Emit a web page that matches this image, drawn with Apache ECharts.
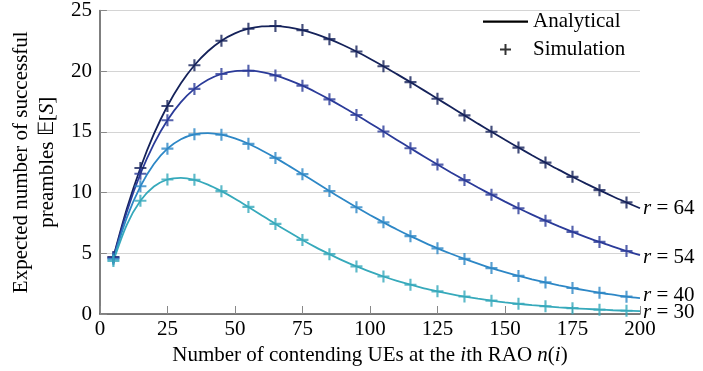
<!DOCTYPE html>
<html>
<head>
<meta charset="utf-8">
<script src="https://cdn.jsdelivr.net/npm/echarts@6/dist/echarts.min.js"></script>
<style>html,body{margin:0;padding:0;background:#fff;}#c{width:703px;height:371px;}</style>
</head>
<body>
<div id="c"></div>
<script>
// x positions of the analytical curves
const nVals = [5,10,15,20,25,30,35,40,45,50,55,60,65,70,75,80,85,90,95,100,105,110,115,120,125,130,135,140,145,150,155,160,165,170,175,180,185,190,195,200];
const r64 = [4.69,8.68,12.03,14.83,17.13,19.00,20.49,21.64,22.51,23.11,23.50,23.69,23.72,23.61,23.39,23.06,22.64,22.16,21.62,21.03,20.41,19.76,19.10,18.42,17.73,17.05,16.36,15.68,15.01,14.35,13.71,13.08,12.47,11.87,11.30,10.74,10.20,9.68,9.19,8.71];
const r54 = [4.64,8.45,11.55,14.02,15.96,17.45,18.54,19.30,19.77,20.01,20.04,19.92,19.65,19.27,18.81,18.27,17.68,17.05,16.39,15.72,15.03,14.34,13.65,12.98,12.31,11.66,11.03,10.42,9.83,9.26,8.71,8.19,7.69,7.22,6.77,6.34,5.94,5.55,5.19,4.85];
const r40 = [4.52,7.96,10.52,12.36,13.62,14.40,14.80,14.90,14.77,14.46,14.02,13.47,12.86,12.20,11.52,10.83,10.13,9.45,8.79,8.16,7.55,6.96,6.41,5.90,5.41,4.96,4.54,4.15,3.78,3.45,3.14,2.86,2.60,2.36,2.14,1.94,1.75,1.59,1.43,1.30];
const r30 = [4.37,7.37,9.33,10.50,11.08,11.22,11.05,10.66,10.12,9.50,8.82,8.12,7.42,6.75,6.10,5.49,4.93,4.40,3.92,3.49,3.09,2.73,2.41,2.12,1.87,1.64,1.44,1.26,1.10,0.96,0.84,0.73,0.64,0.55,0.48,0.42,0.36,0.31,0.27,0.24];
// simulation points
const simN = [5,15,25,35,45,55,65,75,85,95,105,115,125,135,145,155,165,175,185,195];
const sim64 = [4.69,12.03,17.13,20.49,22.51,23.50,23.72,23.39,22.64,21.62,20.41,19.10,17.73,16.36,15.01,13.71,12.47,11.30,10.20,9.19];
const sim54 = [4.64,11.55,15.96,18.54,19.77,20.04,19.65,18.81,17.68,16.39,15.03,13.65,12.31,11.03,9.83,8.71,7.69,6.77,5.94,5.19];
const sim40 = [4.52,10.52,13.62,14.80,14.77,14.02,12.86,11.52,10.13,8.79,7.55,6.41,5.41,4.54,3.78,3.14,2.60,2.14,1.75,1.43];
const sim30 = [4.37,9.33,11.08,11.05,10.12,8.82,7.42,6.10,4.93,3.92,3.09,2.41,1.87,1.44,1.10,0.84,0.64,0.48,0.36,0.27];
const curveNames = ['r = 64','r = 54','r = 40','r = 30'];
const yTicks = [0,5,10,15,20,25];
const xTicks = [0,25,50,75,100,125,150,175,200];

const FONT = "'Liberation Serif','Times New Roman',serif";
const colors = ['#15225a','#2b3b99','#2d87c6','#36a9bb'];
const PLUS = 'path://M4.1,0h1.8v4.1h4.1v1.8h-4.1v4.1h-1.8v-4.1h-4.1v-1.8h4.1z';
const curves = [r64,r54,r40,r30];
const sims = [sim64,sim54,sim40,sim30];
const endOffsets = [[0,0],[0,2],[0,-3],[0,1]];

const series = [];
curves.forEach((c,i)=>{
  series.push({
    name: curveNames[i], type:'line', smooth:0.3, symbol:'none',
    data: nVals.map((n,k)=>[n,c[k]]),
    lineStyle:{color:colors[i], width:1.8},
    itemStyle:{color:colors[i]},
    z: 3,
    endLabel:{
      show:true, distance:3, offset:endOffsets[i],
      formatter: '{i|r} = ' + curveNames[i].split('= ')[1],
      color:'#000', fontFamily:FONT, fontSize:21,
      rich:{i:{fontStyle:'italic', fontFamily:FONT, fontSize:21, color:'#000'}}
    },
    animation:false
  });
});
sims.forEach((s,i)=>{
  series.push({
    name: 'sim'+i, type:'scatter', symbol:PLUS, symbolSize:12,
    data: simN.map((n,k)=>[n,s[k]]),
    itemStyle:{color:colors[i]}, z:4, animation:false
  });
});
series.push({name:'Analytical', type:'line', data:[], symbol:'none', lineStyle:{color:'#000', width:1.8}, itemStyle:{color:'#000'}});
series.push({name:'Simulation', type:'scatter', data:[], symbol:PLUS, itemStyle:{color:'#000'}});

const chart = echarts.init(document.getElementById('c'), null, {renderer:'canvas'});
chart.setOption({
  animation:false,
  backgroundColor:'#fff',
  grid:{left:90, right:63, top:7, bottom:57, containLabel:false},
  legend:{
    orient:'vertical', left:478, top:6, itemGap:7, itemWidth:45, itemHeight:11,
    textStyle:{fontFamily:FONT, fontSize:21, color:'#000'},
    data:[{name:'Analytical', icon:'path://M0,6h40v2h-40z'},{name:'Simulation', icon:PLUS}]
  },
  xAxis:{
    type:'value', min:0, max:200, interval:25,
    name:'Number of contending UEs at the {i|i}th RAO {i|n}({i|i})',
    nameLocation:'middle', nameGap:27,
    nameTextStyle:{fontFamily:FONT, fontSize:21, color:'#000',
      rich:{i:{fontStyle:'italic', fontFamily:FONT, fontSize:21, color:'#000'}}},
    axisLine:{lineStyle:{color:'#555', width:1.5}},
    axisTick:{inside:true, length:8, lineStyle:{color:'#888'}},
    axisLabel:{fontFamily:FONT, fontSize:21, color:'#000', margin:5},
    splitLine:{show:false}
  },
  yAxis:{
    type:'value', min:0, max:25, interval:5,
    name:'Expected number of successful\npreambles 𝔼[{i|S}]',
    nameLocation:'middle', nameGap:37, nameRotate:90,
    nameTextStyle:{fontFamily:FONT, fontSize:21, color:'#000', lineHeight:26,
      rich:{i:{fontStyle:'italic', fontFamily:FONT, fontSize:21, color:'#000', lineHeight:26}}},
    axisLine:{lineStyle:{color:'#555', width:1.5}},
    axisTick:{inside:true, length:7, lineStyle:{color:'#888'}},
    axisLabel:{fontFamily:FONT, fontSize:21, color:'#000', margin:8},
    splitLine:{lineStyle:{color:'#d4d4d4', width:1}}
  },
  series: series
});
</script>
</body>
</html>
